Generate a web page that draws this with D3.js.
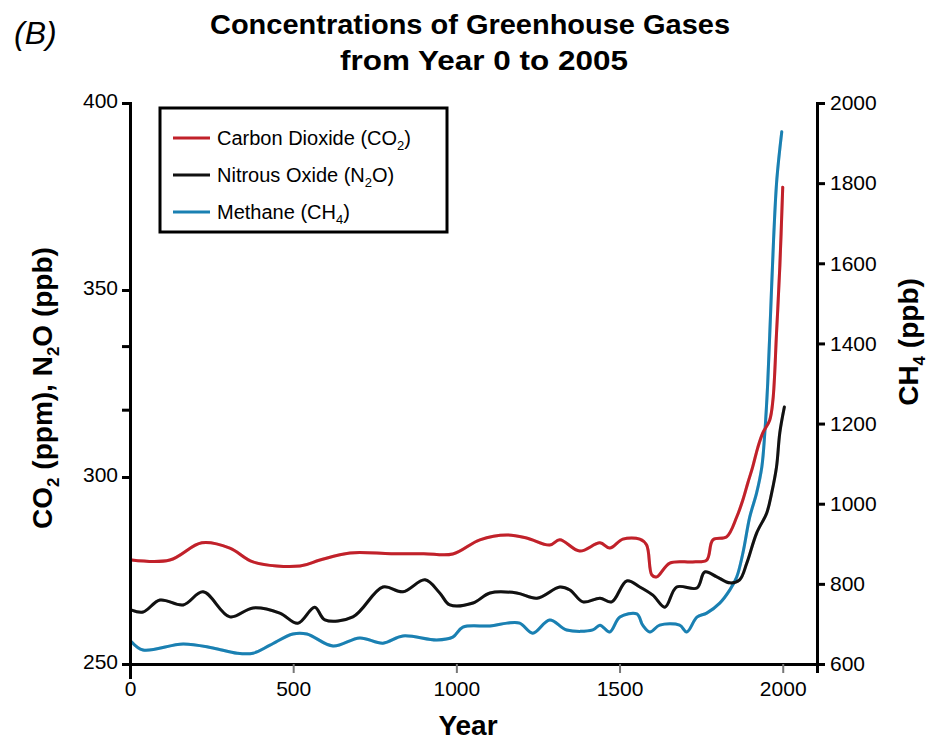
<!DOCTYPE html>
<html>
<head>
<meta charset="utf-8">
<style>
    body {
        margin: 0;
        background: #fff;
        font-family: "Liberation Sans", Arial, sans-serif;
    }
    .title {
        font-size: 27px;
        font-weight: bold;
        text-anchor: middle;
    }
    .panel {
        font-size: 32px;
        font-style: italic;
    }
    .axis-title {
        font-size: 28px;
        font-weight: bold;
        text-anchor: middle;
    }
    .legend-label {
        font-size: 20px;
    }
    .gas {
        fill: none;
        stroke-width: 3;
        stroke-linejoin: round;
        stroke-linecap: round;
    }
</style>
</head>
<body>
<script src="https://cdn.jsdelivr.net/npm/d3@7"></script>
<script>

    // CO2 (ppm), left axis
    var co2Years  = [5, 122, 220, 306, 377, 521, 582, 674, 800, 900, 989, 1072, 1155, 1215, 1286, 1317, 1378, 1440, 1470, 1510, 1562, 1583, 1599, 1614, 1654, 1724, 1767, 1786, 1828, 1859, 1878, 1893, 1908, 1924, 1939, 1960, 1970, 1981, 1991, 2000];
    var co2Values = [277.8, 277.8, 282.4, 281.0, 277.3, 276.2, 277.8, 279.7, 279.5, 279.5, 279.4, 283.2, 284.5, 283.7, 281.8, 283.2, 280.2, 282.4, 281.0, 283.4, 283.4, 281.8, 273.8, 273.3, 277.0, 277.3, 277.8, 283.2, 284.0, 289.3, 293.9, 298.4, 302.7, 308.0, 311.8, 315.2, 320.6, 338.5, 356.1, 377.5];

    // N2O (ppb), left axis
    var n2oYears  = [5, 40, 92, 163, 224, 306, 377, 459, 514, 566, 597, 683, 775, 836, 904, 949, 980, 1051, 1103, 1185, 1247, 1317, 1348, 1388, 1440, 1476, 1522, 1562, 1602, 1639, 1675, 1737, 1761, 1798, 1838, 1868, 1890, 1920, 1951, 1966, 1981, 1991, 2005];
    var n2oValues = [264.4, 263.9, 267.1, 265.8, 269.3, 262.6, 265.0, 263.6, 260.9, 265.2, 261.8, 262.6, 270.6, 269.3, 272.5, 269.0, 265.8, 266.3, 269.0, 269.0, 267.6, 270.6, 269.8, 266.6, 267.6, 266.6, 272.2, 270.6, 268.4, 265.2, 270.6, 270.3, 274.6, 273.3, 271.7, 272.5, 277.0, 285.0, 290.4, 295.7, 302.7, 311.8, 318.7];

    // CH4 (ppb), right axis
    var ch4Years  = [5, 40, 163, 254, 328, 377, 429, 499, 542, 622, 704, 775, 836, 940, 989, 1020, 1103, 1155, 1194, 1234, 1286, 1338, 1418, 1440, 1470, 1501, 1553, 1571, 1593, 1623, 1684, 1706, 1737, 1767, 1807, 1838, 1859, 1878, 1899, 1920, 1936, 1945, 1954, 1963, 1972, 1982, 1997];
    var ch4Values = [655, 635, 650, 640, 627, 627, 647, 675, 675, 645, 665, 652, 670, 660, 667, 692, 695, 702, 702, 677, 710, 685, 685, 697, 680, 717, 725, 697, 680, 697, 697, 680, 717, 727, 752, 785, 817, 877, 967, 1027, 1092, 1176, 1301, 1480, 1660, 1810, 1928];

    var yearTicks  = [0, 500, 1000, 1500, 2000];
    var leftTicks  = [250, 300, 350, 400];
    var leftMinor  = [318, 335];
    var rightTicks = [600, 800, 1000, 1200, 1400, 1600, 1800, 2000];

    var legendNames  = ["Carbon Dioxide (CO", "Nitrous Oxide (N", "Methane (CH"];
    var legendSubs   = ["2", "2", "4"];
    var legendTails  = [")", "O)", ")"];
    var legendColors = ["#c1212a", "#111111", "#1a80b2"];

    var width = 938,
        height = 742,
        plotLeft = 130,
        plotRight = 817,
        plotTop = 103,
        plotBottom = 664,
        plain = d3.format("d");

    var x = d3.scaleLinear().domain([0, 2105]).range([plotLeft, plotRight]);
    var yLeft = d3.scaleLinear().domain([250, 400]).range([plotBottom, plotTop]);
    var yRight = d3.scaleLinear().domain([600, 2000]).range([plotBottom, plotTop]);

    var svg = d3.select("body").append("svg")
        .attr("width", width)
        .attr("height", height);

    // title
    svg.append("text").attr("class", "panel")
        .attr("x", 14).attr("y", 44)
        .text("(B)");
    svg.append("text").attr("class", "title")
        .attr("x", 470).attr("y", 34)
        .attr("textLength", 520).attr("lengthAdjust", "spacingAndGlyphs")
        .text("Concentrations of Greenhouse Gases");
    svg.append("text").attr("class", "title")
        .attr("x", 484).attr("y", 70)
        .attr("textLength", 288).attr("lengthAdjust", "spacingAndGlyphs")
        .text("from Year 0 to 2005");

    // lines
    function gasLine(years, values, yScale) {
        return d3.line()
            .x(function(d, i) { return x(years[i]); })
            .y(function(d) { return yScale(d); })
            .curve(d3.curveCatmullRom.alpha(0.5))(values);
    }

    var series = [
        {years: ch4Years, values: ch4Values, y: yRight, color: legendColors[2]},
        {years: n2oYears, values: n2oValues, y: yLeft, color: legendColors[1]},
        {years: co2Years, values: co2Values, y: yLeft, color: legendColors[0]}
    ];

    svg.selectAll("path.halo")
        .data(series)
      .enter().append("path")
        .attr("class", "gas halo")
        .attr("d", function(s) { return gasLine(s.years, s.values, s.y); })
        .attr("stroke", function(s) { return s.color; })
        .attr("stroke-width", 5)
        .attr("stroke-opacity", 0.25);

    svg.selectAll("path.main")
        .data(series)
      .enter().append("path")
        .attr("class", "gas main")
        .attr("d", function(s) { return gasLine(s.years, s.values, s.y); })
        .attr("stroke", function(s) { return s.color; });

    // left axis
    var leftAxis = svg.append("g")
        .attr("transform", "translate(" + plotLeft + ",0)")
        .call(d3.axisLeft(yLeft).tickValues(leftTicks).tickFormat(plain).tickSize(8).tickPadding(4));
    leftAxis.append("g")
        .call(d3.axisLeft(yLeft).tickValues(leftMinor).tickSize(8).tickFormat(""));

    // right axis
    var rightAxis = svg.append("g")
        .attr("transform", "translate(" + plotRight + ",0)")
        .call(d3.axisRight(yRight).tickValues(rightTicks).tickFormat(plain).tickSize(8).tickPadding(5));

    // bottom axis
    var bottomAxis = svg.append("g")
        .attr("transform", "translate(0," + plotBottom + ")")
        .call(d3.axisBottom(x).tickValues(yearTicks).tickFormat(plain).tickSize(9).tickPadding(8));

    svg.selectAll(".domain")
        .attr("stroke", "#000")
        .attr("stroke-width", 3);
    leftAxis.selectAll(".tick line").attr("stroke-width", 3);
    leftAxis.selectAll("g g .domain").remove();
    rightAxis.selectAll(".tick line").attr("stroke-width", 3);
    bottomAxis.selectAll(".tick line")
        .attr("stroke", "#777")
        .attr("stroke-width", 2);
    bottomAxis.select(".tick line")
        .attr("stroke", "#000")
        .attr("stroke-width", 3)
        .attr("y1", -2).attr("y2", 15);

    svg.selectAll(".tick text")
        .attr("fill", "#000")
        .style("font-family", "'Liberation Sans', Arial, sans-serif")
        .style("font-size", "21px");
    leftAxis.selectAll(".tick text").attr("dy", "0.2em");

    // axis titles
    var leftTitle = svg.append("text").attr("class", "axis-title")
        .attr("transform", "translate(52,388) rotate(-90)");
    leftTitle.append("tspan").text("CO");
    leftTitle.append("tspan").attr("font-size", "17px").attr("dy", 7).text("2");
    leftTitle.append("tspan").attr("dy", -7).text(" (ppm), N");
    leftTitle.append("tspan").attr("font-size", "17px").attr("dy", 7).text("2");
    leftTitle.append("tspan").attr("dy", -7).text("O (ppb)");

    var rightTitle = svg.append("text").attr("class", "axis-title")
        .attr("transform", "translate(918,342) rotate(-90)");
    rightTitle.append("tspan").text("CH");
    rightTitle.append("tspan").attr("font-size", "17px").attr("dy", 7).text("4");
    rightTitle.append("tspan").attr("dy", -7).text(" (ppb)");

    svg.append("text").attr("class", "axis-title")
        .attr("x", 468).attr("y", 735)
        .text("Year");

    // legend
    var legend = svg.append("g");
    legend.append("rect")
        .attr("x", 160).attr("y", 108)
        .attr("width", 287).attr("height", 124)
        .attr("fill", "#fff")
        .attr("stroke", "#000")
        .attr("stroke-width", 3);

    var rows = legend.selectAll("g.row")
        .data(legendNames)
      .enter().append("g")
        .attr("class", "row")
        .attr("transform", function(d, i) { return "translate(173," + (138 + i * 37) + ")"; });

    rows.append("line")
        .attr("x1", 0).attr("x2", 37)
        .attr("stroke", function(d, i) { return legendColors[i]; })
        .attr("stroke-width", 3);

    var labels = rows.append("text")
        .attr("class", "legend-label")
        .attr("x", 44)
        .attr("y", 7);
    labels.append("tspan").text(function(d) { return d; });
    labels.append("tspan").attr("font-size", "13px").attr("dy", 5)
        .text(function(d, i) { return legendSubs[i]; });
    labels.append("tspan").attr("dy", -5)
        .text(function(d, i) { return legendTails[i]; });
</script>
</body>
</html>
